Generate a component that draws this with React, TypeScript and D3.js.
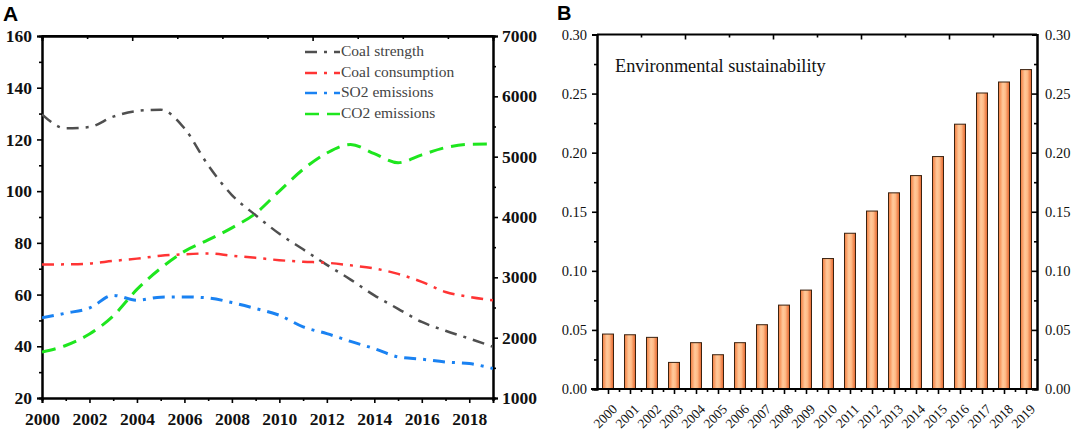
import React, { useRef, useEffect } from 'react';
import * as d3 from 'd3';

// Panel A series (left axis: coal strength, coal consumption, SO2; right axis: CO2)
const years = [2000, 2001, 2002, 2003, 2004, 2005, 2006, 2007, 2008, 2009, 2010, 2011, 2012, 2013, 2014, 2015, 2016, 2017, 2018, 2019];
const coalStrength = [129.7, 124.3, 124.8, 128.8, 131.0, 131.5, 124.3, 110.0, 98.5, 90.7, 83.5, 77.5, 71.5, 65.8, 59.7, 54.5, 49.4, 46.0, 43.0, 39.8];
const coalConsumption = [71.6, 71.7, 72.0, 73.0, 73.9, 75.0, 75.6, 75.9, 75.0, 74.2, 73.3, 72.7, 72.3, 71.3, 70.1, 68.0, 64.9, 61.0, 59.1, 57.8];
const so2Emissions = [51.0, 52.8, 54.8, 59.7, 57.8, 59.0, 59.1, 58.7, 56.9, 54.6, 52.0, 47.5, 44.9, 41.9, 39.1, 35.9, 35.0, 33.9, 33.3, 31.4];
const co2Emissions = [1760, 1870, 2060, 2360, 2800, 3150, 3430, 3620, 3820, 4060, 4430, 4790, 5060, 5200, 5050, 4900, 5030, 5150, 5205, 5210];

// Panel B series
const sustainability = [0.0465, 0.0459, 0.0437, 0.0225, 0.0392, 0.029, 0.0392, 0.0544, 0.071, 0.0837, 0.1104, 0.1318, 0.1506, 0.166, 0.1806, 0.1967, 0.2241, 0.2505, 0.2598, 0.2703];

const leftTicksA = [20, 40, 60, 80, 100, 120, 140, 160];
const rightTicksA = [1000, 2000, 3000, 4000, 5000, 6000, 7000];
const yearTicksA = [2000, 2002, 2004, 2006, 2008, 2010, 2012, 2014, 2016, 2018];
const ticksB = [0, 0.05, 0.1, 0.15, 0.2, 0.25, 0.3];

const serif = '"Liberation Serif", "Times New Roman", serif';
const sans = '"Liberation Sans", Arial, sans-serif';

const App: React.FC = () => {
  const svgRef = useRef<SVGSVGElement>(null);

  useEffect(() => {
    if (!svgRef.current) return;
    const svg = d3.select(svgRef.current);
    svg.selectAll('*').remove();

    const defs = svg.append('defs');
    const grad = defs.append('linearGradient').attr('id', 'barGrad').attr('x1', '0%').attr('x2', '100%').attr('y1', '0%').attr('y2', '0%');
    grad.append('stop').attr('offset', '0%').attr('stop-color', '#f27a3c');
    grad.append('stop').attr('offset', '40%').attr('stop-color', '#ffca9c');
    grad.append('stop').attr('offset', '62%').attr('stop-color', '#ffbc88');
    grad.append('stop').attr('offset', '100%').attr('stop-color', '#e4622a');

    // ---------- Panel A ----------
    const a = { left: 42, right: 493, top: 36, bottom: 398 };
    const xA = d3.scaleLinear().domain([2000, 2019]).range([a.left, a.right]);
    const yL = d3.scaleLinear().domain([20, 160]).range([a.bottom, a.top]);
    const yR = d3.scaleLinear().domain([1000, 7000]).range([a.bottom, a.top]);
    const topA = d3.scaleLinear().domain([0, 10]).range([a.left, a.right]);

    defs.append('clipPath').attr('id', 'clipA')
      .append('rect').attr('x', a.left).attr('y', a.top).attr('width', a.right - a.left).attr('height', a.bottom - a.top);

    const styleAxis = (g: d3.Selection<SVGGElement, unknown, null, undefined>, bold: boolean, size: number) => {
      g.attr('font-family', null);
      g.select('.domain').attr('stroke', '#000').attr('stroke-width', 2);
      g.selectAll('.tick line').attr('stroke', '#000').attr('stroke-width', 1.6);
      g.selectAll('.tick text')
        .attr('fill', '#111')
        .style('font-family', serif)
        .attr('font-weight', bold ? 'bold' : 'normal')
        .attr('font-size', size);
    };

    // minor ticks
    svg.append('g').attr('transform', `translate(0,${a.bottom})`)
      .call(d3.axisBottom(xA).tickValues(years.filter((y) => y % 2 === 1)).tickSize(3).tickFormat(() => ''))
      .call((g) => styleAxis(g, true, 17));
    svg.append('g').attr('transform', `translate(${a.left},0)`)
      .call(d3.axisLeft(yL).tickValues([30, 50, 70, 90, 110, 130, 150]).tickSize(3).tickFormat(() => ''))
      .call((g) => styleAxis(g, true, 17));
    svg.append('g').attr('transform', `translate(${a.right},0)`)
      .call(d3.axisRight(yR).tickValues([1500, 2500, 3500, 4500, 5500, 6500]).tickSize(3).tickFormat(() => ''))
      .call((g) => styleAxis(g, true, 17));
    svg.append('g').attr('transform', `translate(0,${a.top})`)
      .call(d3.axisBottom(topA).tickValues([1, 3, 4, 5, 7, 8, 9]).tickSize(3).tickFormat(() => ''))
      .call((g) => styleAxis(g, true, 17));
    svg.append('g').attr('transform', `translate(0,${a.top})`)
      .call(d3.axisBottom(topA).tickValues([2, 6]).tickSize(5).tickFormat(() => ''))
      .call((g) => styleAxis(g, true, 17));

    // major ticks with labels
    svg.append('g').attr('transform', `translate(0,${a.bottom})`)
      .call(d3.axisBottom(xA).tickValues(yearTicksA).tickSize(5).tickPadding(10).tickFormat(d3.format('d')))
      .call((g) => styleAxis(g, true, 17.5));
    svg.append('g').attr('transform', `translate(${a.left},0)`)
      .call(d3.axisLeft(yL).tickValues(leftTicksA).tickSize(5).tickPadding(5).tickFormat(d3.format('d')))
      .call((g) => styleAxis(g, true, 17.5));
    svg.append('g').attr('transform', `translate(${a.right},0)`)
      .call(d3.axisRight(yR).tickValues(rightTicksA).tickSize(5).tickPadding(4).tickFormat(d3.format('d')))
      .call((g) => styleAxis(g, true, 17.5));

    const plotA = svg.append('g').attr('clip-path', 'url(#clipA)');
    const seriesA = [
      { name: 'Coal strength', values: coalStrength, axis: yL, color: '#4f4f4f', dash: '12,7,3,7', width: 2.5 },
      { name: 'Coal consumption', values: coalConsumption, axis: yL, color: '#ff3434', dash: '12,7,3,7', width: 2.5 },
      { name: 'SO2 emissions', values: so2Emissions, axis: yL, color: '#1a82f2', dash: '12,7,3,7', width: 3 },
      { name: 'CO2 emissions', values: co2Emissions, axis: yR, color: '#1ee61e', dash: '14,8', width: 3 },
    ];

    seriesA.forEach((s) => {
      const line = d3.line<number>()
        .x((_, i) => xA(years[i]))
        .y((d) => s.axis(d))
        .curve(d3.curveMonotoneX);
      plotA.append('path')
        .attr('d', line(s.values))
        .attr('fill', 'none')
        .attr('stroke', s.color)
        .attr('stroke-width', s.width)
        .attr('stroke-dasharray', s.dash);
    });

    // frame top line
    svg.append('line').attr('x1', a.left).attr('x2', a.right).attr('y1', a.top).attr('y2', a.top)
      .attr('stroke', '#000').attr('stroke-width', 2);

    // legend
    const legendY = [52, 73, 93, 114];
    const legend = svg.append('g');
    seriesA.forEach((s, i) => {
      legend.append('line')
        .attr('x1', 305).attr('x2', 340)
        .attr('y1', legendY[i]).attr('y2', legendY[i])
        .attr('stroke', s.color).attr('stroke-width', 2.5)
        .attr('stroke-dasharray', s.dash);
      legend.append('text')
        .attr('x', 341).attr('y', legendY[i])
        .attr('dominant-baseline', 'middle')
        .style('font-family', serif).attr('font-size', 15.5)
        .attr('fill', '#444')
        .text(s.name);
    });

    svg.append('text').attr('x', 3).attr('y', 21)
      .style('font-family', sans).attr('font-weight', 'bold').attr('font-size', 21)
      .text('A');

    // ---------- Panel B ----------
    const b = { left: 597, right: 1037, top: 34.5, bottom: 389 };
    const xB = d3.scaleBand<number>().domain(years).range([b.left, b.right]).paddingInner(0.5).paddingOuter(0.25);
    const yB = d3.scaleLinear().domain([0, 0.3]).range([b.bottom, b.top]);
    const bw = xB.bandwidth();
    const xIdx = d3.scaleLinear().domain([0, 19]).range([xB(2000)! + bw / 2, xB(2019)! + bw / 2]);
    const fmt2 = d3.format('.2f');

    const bars = svg.append('g');
    bars.selectAll('rect')
      .data(sustainability)
      .enter()
      .append('rect')
      .attr('x', (_, i) => xB(years[i])!)
      .attr('y', (d) => yB(d))
      .attr('width', bw)
      .attr('height', (d) => b.bottom - yB(d))
      .attr('fill', 'url(#barGrad)')
      .attr('stroke', '#3a2210')
      .attr('stroke-width', 1);

    const minorB = [0.025, 0.075, 0.125, 0.175, 0.225, 0.275];
    svg.append('g').attr('transform', `translate(${b.left},0)`)
      .call(d3.axisLeft(yB).tickValues(minorB).tickSize(3).tickFormat(() => ''))
      .call((g) => styleAxis(g, false, 14));
    svg.append('g').attr('transform', `translate(${b.left},0)`)
      .call(d3.axisLeft(yB).tickValues(ticksB).tickSize(5).tickPadding(5).tickFormat((d) => fmt2(d as number)))
      .call((g) => styleAxis(g, false, 14.5));

    // right axis: inward ticks, labels outside
    svg.append('g').attr('transform', `translate(${b.right},0)`)
      .call(d3.axisLeft(yB).tickValues(minorB).tickSize(3).tickFormat(() => ''))
      .call((g) => styleAxis(g, false, 14));
    svg.append('g').attr('transform', `translate(${b.right},0)`)
      .call(d3.axisLeft(yB).tickValues(ticksB).tickSize(5).tickFormat(() => ''))
      .call((g) => styleAxis(g, false, 14));
    svg.append('g').attr('transform', `translate(${b.right},0)`)
      .call(d3.axisRight(yB).tickValues(ticksB).tickSize(0).tickPadding(8).tickFormat((d) => fmt2(d as number)))
      .call((g) => styleAxis(g, false, 14.5))
      .call((g) => g.select('.domain').remove());

    // top axis (inward ticks)
    svg.append('g').attr('transform', `translate(0,${b.top})`)
      .call(d3.axisBottom(xIdx).tickValues([1.5, 5.5, 9.5, 13.5, 17.5]).tickSize(3).tickFormat(() => ''))
      .call((g) => styleAxis(g, false, 14))
      .call((g) => g.select('.domain').remove());
    svg.append('g').attr('transform', `translate(0,${b.top})`)
      .call(d3.axisBottom(xIdx).tickValues([3.5, 7.5, 11.5, 15.5]).tickSize(5).tickFormat(() => ''))
      .call((g) => styleAxis(g, false, 14))
      .call((g) => g.select('.domain').remove());
    svg.append('line').attr('x1', b.left).attr('x2', b.right).attr('y1', b.top).attr('y2', b.top)
      .attr('stroke', '#000').attr('stroke-width', 2);

    // bottom axis
    svg.append('g').attr('transform', `translate(0,${b.bottom})`)
      .call(d3.axisBottom(xIdx).tickValues(d3.range(0.5, 19, 1)).tickSize(3).tickFormat(() => ''))
      .call((g) => styleAxis(g, false, 14))
      .call((g) => g.select('.domain').remove());
    svg.append('g').attr('transform', `translate(0,${b.bottom})`)
      .call(d3.axisBottom(xIdx).tickValues(d3.range(0, 20, 1)).tickSize(5).tickFormat(() => ''))
      .call((g) => styleAxis(g, false, 14))
      .call((g) => g.select('.domain').remove());
    svg.append('line').attr('x1', b.left - 6).attr('x2', b.right).attr('y1', b.bottom).attr('y2', b.bottom)
      .attr('stroke', '#000').attr('stroke-width', 2);

    svg.append('g').selectAll('text')
      .data(years)
      .enter()
      .append('text')
      .attr('transform', (d) => `translate(${xB(d)! + bw / 2 + 10},${b.bottom + 21}) rotate(-45)`)
      .attr('text-anchor', 'end')
      .style('font-family', serif)
      .attr('font-size', 13.5)
      .attr('fill', '#111')
      .text((d) => String(d));

    svg.append('text').attr('x', 615).attr('y', 71.5)
      .style('font-family', serif).attr('font-size', 18.3).attr('fill', '#111')
      .text('Environmental sustainability');

    svg.append('text').attr('x', 557).attr('y', 19.5)
      .style('font-family', sans).attr('font-weight', 'bold').attr('font-size', 20)
      .text('B');
  }, []);

  return (
    <div style={{ position: 'absolute', left: 0, top: 0 }}>
      <svg ref={svgRef} width={1072} height={435} style={{ display: 'block', background: '#fff' }} />
    </div>
  );
};

export default App;
